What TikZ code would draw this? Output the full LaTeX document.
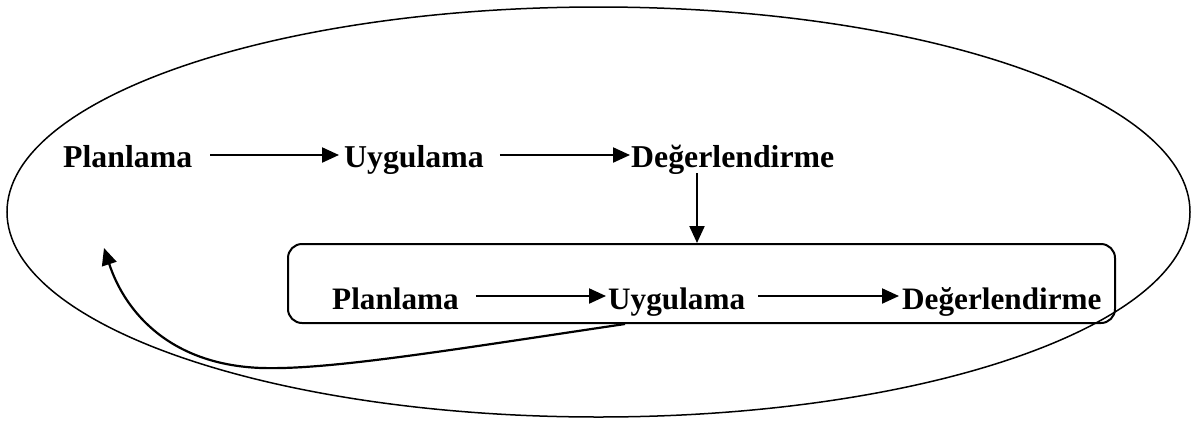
\documentclass[tikz,border=0pt]{standalone}
\usepackage{fontspec}
\setmainfont{Liberation Serif}
\usetikzlibrary{arrows.meta,shapes.geometric}
\tikzset{
  lbl/.style={inner sep=0pt, anchor=base west, font=\fontsize{31.8}{36}\selectfont\bfseries},
  lblb/.style={inner sep=0pt, anchor=base west, font=\fontsize{31.2}{36}\selectfont\bfseries},
  arr/.style={line width=2.2pt, -{Triangle[length=17pt,width=15pt]}},
}
\begin{document}
\begin{tikzpicture}[x=1pt,y=-1pt]
\useasboundingbox (0,0) rectangle (1197,421);
\node[ellipse, draw, line width=1.5pt, minimum width=1183pt, minimum height=410pt, inner sep=0pt] (ell) at (598.5,212) {};
\node[draw, rounded corners=14pt, line width=2pt, minimum width=827pt, minimum height=79pt, inner sep=0pt] (box) at (701.5,283.5) {};
% top row
\node[lbl] (p1) at (63,167) {Planlama};
\node[lbl] (u1) at (344,167) {Uygulama};
\node[lbl] (d1) at (631,167) {Değerlendirme};
% bottom row
\node[lblb] (p2) at (332,309) {Planlama};
\node[lblb] (u2) at (608,309) {Uygulama};
\node[lblb] (d2) at (902,309) {Değerlendirme};
\draw[arr] ([shift={(18,-12)}]p1.base east) -- ([shift={(-5,-12)}]u1.base west);
\draw[arr] ([shift={(16,-12)}]u1.base east) -- ([shift={(-1,-12)}]d1.base west);
\draw[arr] ([shift={(17,-13)}]p2.base east) -- ([shift={(-2,-13)}]u2.base west);
\draw[arr] ([shift={(13,-13)}]u2.base east) -- ([shift={(-3,-13)}]d2.base west);
\draw[arr] (697,173) -- (box.north -| 697,0);
\coordinate (cs) at (625,324);
\coordinate (ce) at (104,248);
\draw[arr] (cs) .. controls (450,350) and (330,370) .. (262,368) .. controls (170,365) and (125,312) .. (ce);
\end{tikzpicture}
\end{document}
